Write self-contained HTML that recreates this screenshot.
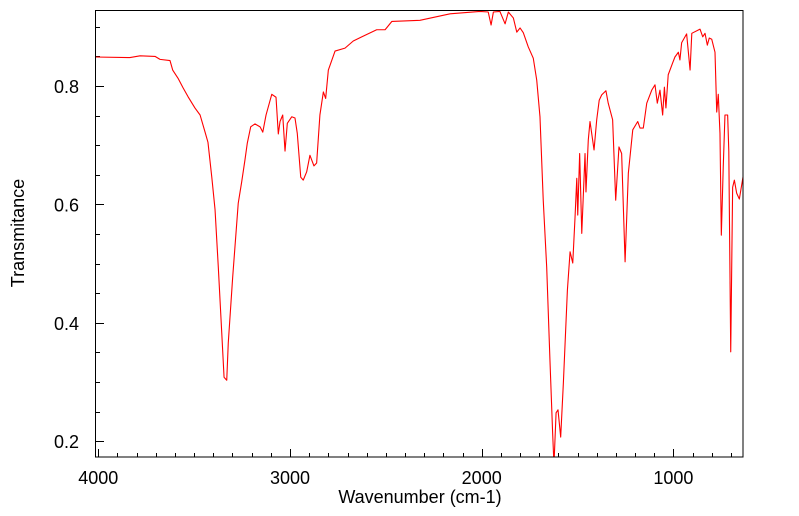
<!DOCTYPE html>
<html><head><meta charset="utf-8"><style>
body{margin:0;background:#fff;}
svg{display:block;font-family:"Liberation Sans","DejaVu Sans",sans-serif;}
</style></head><body>
<svg id="chart" width="799" height="516">
<defs><clipPath id="clip"><rect x="95" y="10" width="648" height="447"/></clipPath></defs>
<g id="axes"></g>
<path id="spectrum" clip-path="url(#clip)" fill="none" stroke="#ff0000" stroke-width="1.1" stroke-linejoin="round"/>
<rect x="95.5" y="10.5" width="647.5" height="446.5" fill="none" stroke="#000" stroke-width="1"/>
<text x="420" y="503" font-size="18" text-anchor="middle">Wavenumber (cm-1)</text>
<text x="24" y="233" font-size="18" text-anchor="middle" transform="rotate(-90 24 233)">Transmitance</text>
</svg>
<script>
const wavenumbers = [4017,3835,3782,3704,3678,3626,3612,3584,3558,3532,3496,3469,3443,3428,3408,3391,3374,3356,3344,3330,3322,3299,3270,3252,3235,3223,3205,3183,3156,3142,3125,3095,3073,3061,3052,3038,3026,3014,2991,2974,2962,2944,2931,2913,2896,2875,2861,2844,2826,2814,2800,2765,2713,2670,2626,2548,2504,2469,2322,2165,2009,1966,1951,1939,1905,1878,1861,1835,1817,1800,1783,1757,1731,1713,1696,1679,1661,1644,1630,1623,1612,1602,1588,1574,1553,1539,1525,1513,1504,1499,1489,1478,1461,1456,1444,1435,1414,1400,1387,1374,1352,1340,1317,1301,1284,1270,1252,1235,1212,1186,1174,1157,1139,1113,1096,1084,1070,1056,1047,1039,1027,1004,992,974,966,957,931,913,904,861,847,835,823,813,800,783,774,766,757,750,740,731,717,711,701,691,682,670,656,635];
const transmittance = [0.849,0.848,0.851,0.850,0.845,0.843,0.827,0.813,0.797,0.782,0.763,0.751,0.722,0.705,0.646,0.591,0.494,0.383,0.308,0.303,0.366,0.477,0.602,0.638,0.675,0.703,0.731,0.736,0.731,0.722,0.751,0.786,0.781,0.719,0.740,0.751,0.690,0.737,0.748,0.746,0.720,0.646,0.641,0.655,0.683,0.665,0.670,0.751,0.790,0.779,0.827,0.859,0.864,0.876,0.883,0.895,0.895,0.909,0.911,0.922,0.926,0.925,0.903,0.925,0.926,0.905,0.925,0.915,0.891,0.898,0.890,0.866,0.847,0.810,0.748,0.607,0.494,0.337,0.214,0.160,0.248,0.253,0.207,0.298,0.455,0.520,0.501,0.579,0.644,0.582,0.686,0.551,0.686,0.621,0.709,0.740,0.692,0.743,0.776,0.785,0.792,0.771,0.743,0.607,0.697,0.686,0.503,0.653,0.726,0.740,0.729,0.729,0.771,0.793,0.802,0.771,0.793,0.751,0.798,0.763,0.819,0.839,0.849,0.857,0.844,0.873,0.888,0.827,0.889,0.896,0.883,0.889,0.869,0.881,0.879,0.857,0.756,0.786,0.720,0.548,0.663,0.751,0.751,0.690,0.351,0.629,0.641,0.619,0.609,0.650];
const xMajorTicks = [4000,3000,2000,1000];
const yMajorTicks = [0.2,0.4,0.6,0.8];

const NS = "http://www.w3.org/2000/svg";
function xs(w){return 98.3 + (4000 - w) * 0.1917;}
function ys(t){return 86 - (t - 0.8) * 592;}

let d = "";
for (let i = 0; i < wavenumbers.length; i++) {
  d += (i ? "L" : "M") + xs(wavenumbers[i]).toFixed(2) + "," + ys(transmittance[i]).toFixed(2);
}
document.getElementById("spectrum").setAttribute("d", d);

const axes = document.getElementById("axes");
function line(x1,y1,x2,y2,name){
  const l = document.createElementNS(NS,"line");
  l.setAttribute("x1",x1);l.setAttribute("y1",y1);l.setAttribute("x2",x2);l.setAttribute("y2",y2);
  l.setAttribute("stroke","#000");l.setAttribute("stroke-width","1");
  
  
  axes.appendChild(l);
}
function text(x,y,s,anchor,name){
  const t = document.createElementNS(NS,"text");
  t.setAttribute("x",x);t.setAttribute("y",y);t.setAttribute("font-size","18");
  t.setAttribute("text-anchor",anchor);t.textContent = s;
  
  
  axes.appendChild(t);
}
for (let w = 4000; w >= 700; w -= 100) {
  const x = Math.round(xs(w)) + 0.5;
  const major = w % 1000 === 0;
  line(x, 457, x, major ? 449 : 453, major ? "x-major-tick" : "x-minor-tick");
}
xMajorTicks.forEach(w => text(xs(w), 484, String(w), "middle", "x-tick-label"));
for (let k = 4; k <= 18; k++) {
  const t = k * 0.05;
  const y = Math.round(ys(t)) + 0.5;
  const major = k % 4 === 0;
  line(95, y, major ? 104 : 100, y, major ? "y-major-tick" : "y-minor-tick");
}
yMajorTicks.forEach(t => text(79, ys(t) + 7, t.toFixed(1), "end", "y-tick-label"));
</script>
</body></html>
